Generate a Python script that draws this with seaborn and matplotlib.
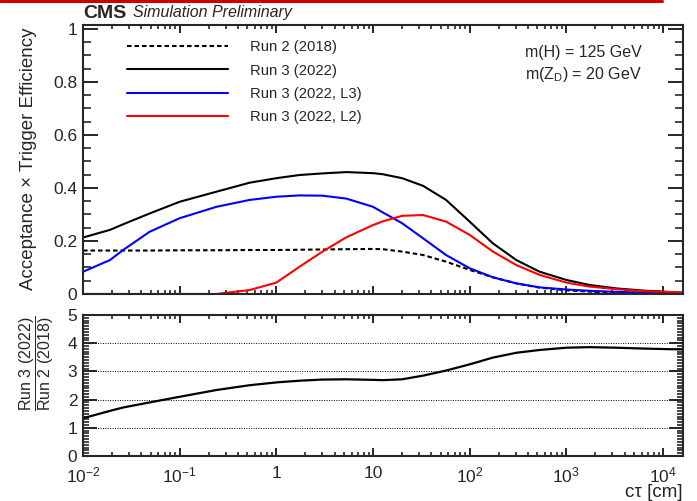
import numpy as np
import pandas as pd
import matplotlib
matplotlib.use("Agg")
import matplotlib.pyplot as plt
from matplotlib.ticker import (LogLocator, FuncFormatter, MultipleLocator, NullFormatter,
                               FixedLocator)
from matplotlib.lines import Line2D
import seaborn as sns

# ---------------- data ----------------
ctau = [0.01, 0.019, 0.026, 0.049, 0.1, 0.24, 0.53, 1, 1.74, 3.0, 5.3, 10, 12.6,
        20, 33, 57, 100, 174, 304, 530, 1000, 1740, 3300, 6200, 10800, 16000]
run2_2018 = [0.164, 0.164, 0.164, 0.164, 0.165, 0.165, 0.166, 0.166, 0.167, 0.168,
             0.169, 0.170, 0.169, 0.160, 0.147, 0.122, 0.091, 0.063, 0.040, 0.024,
             0.014, 0.009, 0.0055, 0.0034, 0.0021, 0.0013]
run3_2022 = [0.213, 0.242, 0.263, 0.304, 0.348, 0.386, 0.420, 0.437, 0.449, 0.455,
             0.460, 0.456, 0.452, 0.437, 0.408, 0.355, 0.273, 0.191, 0.128, 0.084,
             0.053, 0.034, 0.021, 0.013, 0.008, 0.005]
run3_L3 = [0.084, 0.128, 0.166, 0.235, 0.286, 0.329, 0.355, 0.367, 0.372, 0.371,
           0.360, 0.329, 0.308, 0.267, 0.210, 0.147, 0.097, 0.063, 0.040, 0.025,
           0.017, 0.012, 0.008, 0.005, 0.003, 0.002]
run3_L2 = [0.0, 0.0, 0.0, 0.0, 0.0, 0.0, 0.015, 0.043, 0.103, 0.160,
           0.214, 0.260, 0.274, 0.295, 0.298, 0.273, 0.223, 0.160, 0.109, 0.072,
           0.043, 0.028, 0.018, 0.011, 0.008, 0.005]
ratio = [1.34, 1.60, 1.72, 1.90, 2.10, 2.34, 2.51, 2.61, 2.67, 2.71, 2.72, 2.70,
         2.69, 2.72, 2.85, 3.03, 3.25, 3.49, 3.66, 3.76, 3.84, 3.86, 3.84, 3.81,
         3.79, 3.78]

xticks = [1e-2, 1e-1, 1, 10, 1e2, 1e3, 1e4]
xtick_labels = [r"$10^{-2}$", r"$10^{-1}$", "1", "10", r"$10^{2}$", r"$10^{3}$", r"$10^{4}$"]

labels = ["Run 2 (2018)", "Run 3 (2022)", "Run 3 (2022, L3)", "Run 3 (2022, L2)"]
colors = ["black", "black", "#0000ff", "#ff0000"]
styles = [(0, (2.2, 1.4)), "-", "-", "-"]
series = [run2_2018, run3_2022, run3_L3, run3_L2]

# ---------------- style ----------------
sns.set_style("ticks")
plt.rcParams["font.family"] = ["Liberation Sans", "DejaVu Sans"]
plt.rcParams["mathtext.fontset"] = "custom"
plt.rcParams["mathtext.rm"] = "Liberation Sans"
plt.rcParams["mathtext.it"] = "Liberation Sans:italic"
plt.rcParams["mathtext.bf"] = "Liberation Sans:bold"
plt.rcParams["axes.linewidth"] = 1.5

W, H = 697, 501
fig = plt.figure(figsize=(W / 100, H / 100), dpi=100)

def fx(px):
    return px / W

def fy(py):
    return 1 - py / H

L, R = 83, 683
ax1 = fig.add_axes([fx(L), fy(294), fx(R - L), (294 - 25) / H])
ax2 = fig.add_axes([fx(L), fy(456), fx(R - L), (456 - 315) / H])

for vals, lab, col, ls in zip(series, labels, colors, styles):
    sns.lineplot(x=ctau, y=vals, ax=ax1, color=col, linestyle=ls, linewidth=1.5,
                 label=lab, sort=True)

sns.lineplot(x=ctau, y=ratio, ax=ax2, color="black", linewidth=1.6)

xmax = 10 ** (4 + 20 / 96.7)
minor_ticks = [m * 10.0 ** e for e in range(-2, 5) for m in range(2, 10) if m * 10.0 ** e < xmax]

for ax in (ax1, ax2):
    ax.set_xscale("log")
    ax.set_xlim(1e-2, xmax)
    ax.xaxis.set_major_locator(FixedLocator(xticks))
    ax.xaxis.set_minor_locator(FixedLocator(minor_ticks))
    ax.xaxis.set_minor_formatter(NullFormatter())
    ax.tick_params(axis="x", which="major", direction="in", length=6, width=1.4,
                   top=True, bottom=True, labelsize=12.5, pad=7)
    ax.tick_params(axis="x", which="minor", direction="in", length=3, width=1.2,
                   top=True, bottom=True)
    ax.set_xlabel("")
    ax.set_ylabel("")
    for sp in ax.spines.values():
        sp.set_linewidth(1.5)

ax1.tick_params(axis="x", which="both", labelbottom=False)
ax2.set_xticklabels(xtick_labels)

ax1.set_ylim(0, 1.015)
ax1.yaxis.set_major_locator(MultipleLocator(0.2))
ax1.yaxis.set_minor_locator(MultipleLocator(0.05))
ax1.yaxis.set_major_formatter(FuncFormatter(lambda v, p: "0" if abs(v) < 1e-9 else ("1" if abs(v - 1) < 1e-9 else f"{v:.1f}")))
ax1.tick_params(axis="y", which="major", direction="in", length=11, width=1.4,
                left=True, right=True, labelsize=12.5, pad=4)
ax1.tick_params(axis="y", which="minor", direction="in", length=5.5, width=1.2,
                left=True, right=True)

ax2.set_ylim(0, 5)
ax2.yaxis.set_major_locator(MultipleLocator(1))
ax2.yaxis.set_minor_locator(MultipleLocator(0.1))
ax2.tick_params(axis="y", which="major", direction="in", length=10, width=1.4,
                left=True, right=True, labelsize=12.5, pad=4)
ax2.tick_params(axis="y", which="minor", direction="in", length=4.5, width=1.2,
                left=True, right=True)
ax2.yaxis.grid(True, which="major", linestyle=(0, (1, 1.5)), color="black", linewidth=0.7)
ax2.set_axisbelow(True)

leg = ax1.legend(loc="upper left", bbox_to_anchor=(0.0733, 0.943), frameon=False,
                 fontsize=10.7, handlelength=6.8, handletextpad=1.48,
                 labelspacing=0.62, borderpad=0, borderaxespad=0)

# ---------------- texts ----------------
fig.text(fx(83), fy(17.5), "CMS", fontsize=14, fontweight="bold", va="baseline", ha="left")
fig.text(fx(133), fy(17.5), "Simulation Preliminary", fontsize=11.5, style="italic",
         va="baseline", ha="left")
fig.text(fx(642), fy(57.5), "m(H) = 125 GeV", fontsize=11.5, ha="right", va="baseline")
fig.text(fx(642), fy(78.5), r"m(Z$_{\mathrm{D}}$) = 20 GeV", fontsize=11.5, ha="right",
         va="baseline")
fig.text(fx(29), fy(28), "Acceptance × Trigger Efficiency", rotation=90, fontsize=13.5,
         ha="center", va="top")
fig.text(fx(37), fy(363), r"$\dfrac{\mathrm{Run\ 3\ (2022)}}{\mathrm{Run\ 2\ (2018)}}$",
         rotation=90, fontsize=11.5, ha="center", va="center")
fig.text(fx(683), fy(497), "cτ [cm]", fontsize=13.5, ha="right", va="baseline")

fig.add_artist(Line2D([0, fx(662)], [fy(1.3), fy(1.3)], color="#cc0000", linewidth=2.2))

fig.savefig("out.png", dpi=100)
